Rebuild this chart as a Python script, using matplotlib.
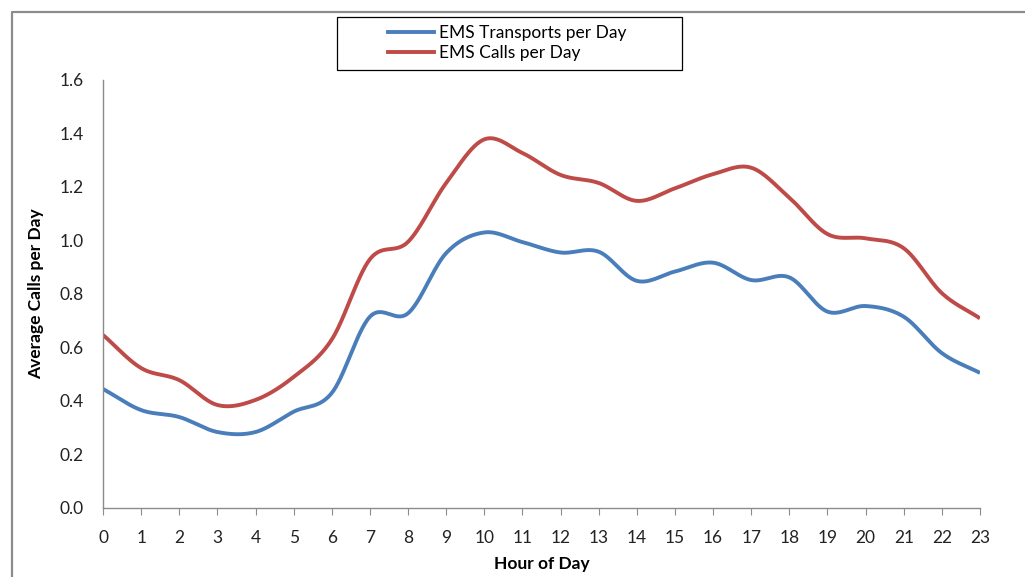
import numpy as np
import matplotlib.pyplot as plt
from matplotlib.lines import Line2D
from matplotlib.patches import Rectangle

hours = list(range(24))
transports = [0.445, 0.366, 0.340, 0.284, 0.284, 0.360, 0.430, 0.715, 0.728, 0.953,
              1.030, 0.994, 0.955, 0.958, 0.849, 0.884, 0.917, 0.852, 0.862, 0.734,
              0.755, 0.715, 0.579, 0.505]
calls = [0.647, 0.523, 0.478, 0.385, 0.404, 0.490, 0.630, 0.930, 0.995, 1.215,
         1.378, 1.327, 1.245, 1.215, 1.148, 1.195, 1.248, 1.272, 1.160, 1.024,
         1.008, 0.971, 0.803, 0.709]
yticks = [0.0, 0.2, 0.4, 0.6, 0.8, 1.0, 1.2, 1.4, 1.6]

BLUE = '#4a7ebb'
RED = '#be4b48'
GRID = '#8c8c8c'


def smooth(x, y, n=30):
    # catmull-rom through every point, like a spreadsheet "smoothed line"
    x = np.asarray(x, float)
    y = np.asarray(y, float)
    px = np.concatenate([[2 * x[0] - x[1]], x, [2 * x[-1] - x[-2]]])
    py = np.concatenate([[2 * y[0] - y[1]], y, [2 * y[-1] - y[-2]]])
    t = np.linspace(0, 1, n, endpoint=False)
    xs, ys = [], []
    for i in range(1, len(px) - 2):
        for p, out in ((px, xs), (py, ys)):
            p0, p1, p2, p3 = p[i - 1], p[i], p[i + 1], p[i + 2]
            out.extend(0.5 * (2 * p1 + (-p0 + p2) * t
                              + (2 * p0 - 5 * p1 + 4 * p2 - p3) * t ** 2
                              + (-p0 + 3 * p1 - 3 * p2 + p3) * t ** 3))
    xs.append(x[-1])
    ys.append(y[-1])
    return xs, ys


plt.rcParams['font.family'] = ['Lato', 'DejaVu Sans']

fig = plt.figure(figsize=(10.25, 5.77), dpi=100, facecolor='white')
ax = fig.add_axes([0.1005, 0.1196, 0.8556, 0.7418])

ax.plot(*smooth(hours, transports), color=BLUE, lw=2.8, solid_capstyle='butt',
        label='EMS Transports per Day')
ax.plot(*smooth(hours, calls), color=RED, lw=2.8, solid_capstyle='butt',
        label='EMS Calls per Day')

ax.set_xlim(0, 23)
ax.set_ylim(0, 1.6)
ax.set_xticks(hours)
ax.set_yticks(yticks)
ax.set_yticklabels([f'{v:.1f}' for v in yticks])
ax.tick_params(axis='x', length=5, color=GRID, labelsize=12.5, pad=11, labelcolor='#222222')
ax.tick_params(axis='y', length=0, labelsize=12.5, pad=14, labelcolor='#222222')
for s in ('top', 'right'):
    ax.spines[s].set_visible(False)
for s in ('left', 'bottom'):
    ax.spines[s].set_color(GRID)
    ax.spines[s].set_linewidth(1)

ax.set_xlabel('Hour of Day', fontsize=12.5, fontweight='bold', labelpad=7)
ax.set_ylabel('Average Calls per Day', fontsize=12.5, fontweight='bold', labelpad=11)

handles = [Line2D([], [], color=BLUE, lw=2.8), Line2D([], [], color=RED, lw=2.8)]
fig.legend(handles, ['EMS Transports per Day', 'EMS Calls per Day'],
           loc='center', bbox_to_anchor=(0.495, 0.925), frameon=False,
           fontsize=12.5, handlelength=2.6, handletextpad=0.3, labelspacing=0.25)
fig.add_artist(Rectangle((337 / 1025, 1 - 70 / 577), 345 / 1025, 53 / 577,
                         transform=fig.transFigure, fill=False, edgecolor='black', lw=0.9))

# outer chart border
fig.add_artist(Line2D([12 / 1025, 12 / 1025, 1.0], [0.0, 1 - 12 / 577, 1 - 12 / 577],
                      transform=fig.transFigure, color=GRID, lw=1.6))

fig.savefig('out.png', dpi=100, facecolor='white')
